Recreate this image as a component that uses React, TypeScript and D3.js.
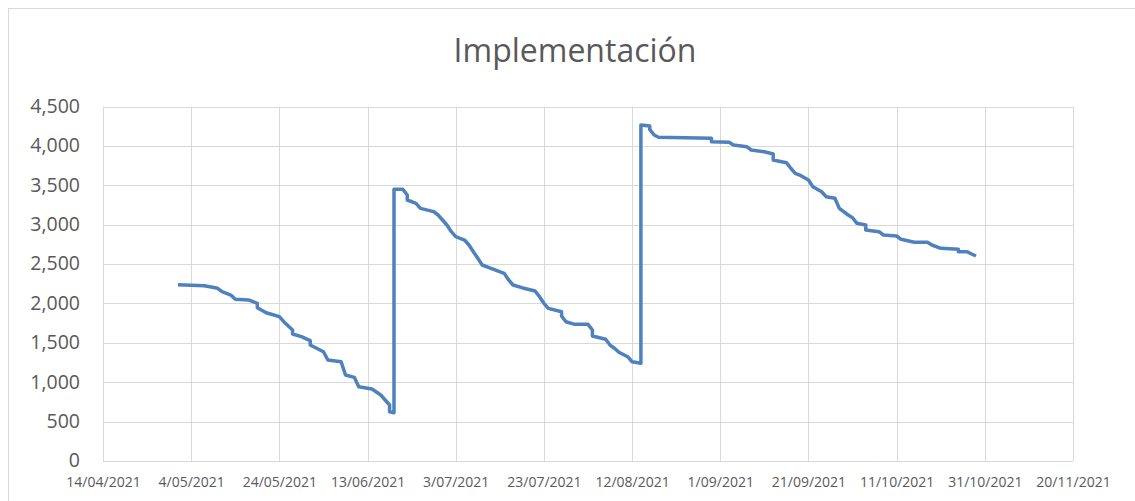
import React, { useEffect, useRef } from "react";
import * as d3 from "d3";

const title = "Implementación";

// date of each point and the remaining value
const dates = [
  "2021-05-01", "2021-05-07", "2021-05-10", "2021-05-11", "2021-05-13", "2021-05-14",
  "2021-05-17", "2021-05-19", "2021-05-19", "2021-05-21", "2021-05-24", "2021-05-25",
  "2021-05-27", "2021-05-27", "2021-05-29", "2021-05-31", "2021-05-31", "2021-06-03",
  "2021-06-04", "2021-06-07", "2021-06-08", "2021-06-10", "2021-06-11", "2021-06-14",
  "2021-06-16", "2021-06-17", "2021-06-18", "2021-06-18", "2021-06-19",
  "2021-06-19", "2021-06-21", "2021-06-22", "2021-06-22", "2021-06-24", "2021-06-25",
  "2021-06-28", "2021-06-29", "2021-06-30", "2021-07-01", "2021-07-02", "2021-07-03",
  "2021-07-05", "2021-07-06", "2021-07-07", "2021-07-08", "2021-07-09", "2021-07-11",
  "2021-07-14", "2021-07-15", "2021-07-16", "2021-07-18", "2021-07-21", "2021-07-22",
  "2021-07-23", "2021-07-24", "2021-07-27", "2021-07-27", "2021-07-28", "2021-07-30",
  "2021-08-02", "2021-08-03", "2021-08-03", "2021-08-06", "2021-08-07", "2021-08-08",
  "2021-08-09", "2021-08-11", "2021-08-12", "2021-08-14",
  "2021-08-14", "2021-08-16", "2021-08-16", "2021-08-17", "2021-08-18", "2021-08-30",
  "2021-08-30", "2021-09-03", "2021-09-04", "2021-09-07", "2021-09-08", "2021-09-11",
  "2021-09-13", "2021-09-13", "2021-09-16", "2021-09-17", "2021-09-18", "2021-09-19",
  "2021-09-21", "2021-09-22", "2021-09-24", "2021-09-25", "2021-09-27", "2021-09-28",
  "2021-09-30", "2021-10-01", "2021-10-02", "2021-10-04", "2021-10-04", "2021-10-07",
  "2021-10-08", "2021-10-11", "2021-10-12", "2021-10-15", "2021-10-18", "2021-10-19",
  "2021-10-21", "2021-10-25", "2021-10-25", "2021-10-27", "2021-10-28", "2021-10-29",
];

const values = [
  2238, 2225, 2192, 2149, 2107, 2053,
  2044, 2002, 1946, 1882, 1832, 1768,
  1663, 1612, 1578, 1527, 1472, 1387,
  1282, 1260, 1092, 1062, 943, 914,
  838, 774, 711, 626, 613,
  3449, 3449, 3377, 3313, 3271, 3207,
  3165, 3123, 3059, 2996, 2911, 2847,
  2805, 2742, 2657, 2573, 2488, 2446,
  2382, 2298, 2234, 2200, 2158, 2086,
  2002, 1938, 1895, 1840, 1768, 1735,
  1735, 1663, 1587, 1545, 1472, 1431,
  1380, 1324, 1260, 1240,
  4265, 4252, 4210, 4138, 4109, 4096,
  4053, 4045, 4011, 3990, 3948, 3926,
  3897, 3821, 3787, 3716, 3652, 3630,
  3567, 3482, 3418, 3355, 3335, 3207,
  3123, 3088, 3017, 2996, 2932, 2911,
  2869, 2856, 2814, 2776, 2776, 2742,
  2700, 2687, 2657, 2657, 2628, 2602,
];

const xTicks = [
  "14/04/2021", "4/05/2021", "24/05/2021", "13/06/2021", "3/07/2021", "23/07/2021",
  "12/08/2021", "1/09/2021", "21/09/2021", "11/10/2021", "31/10/2021", "20/11/2021",
];
const yTicks = [0, 500, 1000, 1500, 2000, 2500, 3000, 3500, 4000, 4500];

const W = 1135;
const H = 501;
const margin = { top: 106.5, right: 62, bottom: 40, left: 103 };
const font = "'Open Sans', sans-serif";

const App = () => {
  const ref = useRef<SVGSVGElement>(null);

  useEffect(() => {
    const svg = d3.select(ref.current);
    svg.selectAll("*").remove();

    const parse = d3.timeParse("%Y-%m-%d");
    const parseTick = d3.timeParse("%d/%m/%Y");
    const tickDates = xTicks.map((t) => parseTick(t) as Date);
    const data = dates.map((d, i) => ({ date: parse(d) as Date, value: values[i] }));

    const x = d3.scaleTime()
      .domain([tickDates[0], tickDates[tickDates.length - 1]])
      .range([margin.left, W - margin.right]);
    const y = d3.scaleLinear()
      .domain([0, 4500])
      .range([H - margin.bottom, margin.top]);

    // chart frame
    svg.append("rect")
      .attr("x", 8.5).attr("y", 8.5)
      .attr("width", W).attr("height", H)
      .attr("fill", "none").attr("stroke", "#d9d9d9");

    svg.append("text")
      .attr("x", 575).attr("y", 62)
      .attr("text-anchor", "middle")
      .attr("font-family", font)
      .attr("font-size", 32)
      .attr("fill", "#595959")
      .text(title);

    const grid = svg.append("g").attr("stroke", "#d9d9d9").attr("stroke-width", 1);
    yTicks.forEach((t) => {
      grid.append("line")
        .attr("x1", margin.left).attr("x2", W - margin.right)
        .attr("y1", Math.round(y(t)) + 0.5).attr("y2", Math.round(y(t)) + 0.5);
    });
    tickDates.forEach((t) => {
      grid.append("line")
        .attr("x1", Math.round(x(t)) + 0.5).attr("x2", Math.round(x(t)) + 0.5)
        .attr("y1", y(4500)).attr("y2", y(0));
    });

    const yAxis = d3.axisLeft(y).tickValues(yTicks).tickSize(0).tickPadding(23)
      .tickFormat((d) => d3.format(",")(d as number));
    const gy = svg.append("g").attr("transform", `translate(${margin.left},0)`).call(yAxis);
    gy.select(".domain").remove();
    gy.selectAll("text")
      .attr("font-family", font)
      .attr("font-size", 19.5)
      .attr("fill", "#595959")
      .attr("dy", "0.3em");

    const xAxis = d3.axisBottom(x).tickValues(tickDates).tickSize(0)
      .tickFormat((d, i) => xTicks[i]);
    const gx = svg.append("g").attr("transform", `translate(0,${H - margin.bottom})`).call(xAxis);
    gx.select(".domain").remove();
    gx.selectAll("text")
      .attr("font-family", font)
      .attr("font-size", 14)
      .attr("fill", "#595959")
      .attr("y", 26)
      .attr("dy", 0);

    const path = d3.line<{ date: Date; value: number }>()
      .x((d) => x(d.date))
      .y((d) => y(d.value));

    svg.append("path")
      .datum(data)
      .attr("d", path)
      .attr("fill", "none")
      .attr("stroke", "#4f81bd")
      .attr("stroke-width", 3.5)
      .attr("stroke-linejoin", "round");
  }, []);

  return (
    <div style={{ position: "absolute", left: 0, top: 0 }}>
      <svg ref={ref} width={W} height={H} style={{ display: "block", background: "#fff" }} />
    </div>
  );
};

export default App;
